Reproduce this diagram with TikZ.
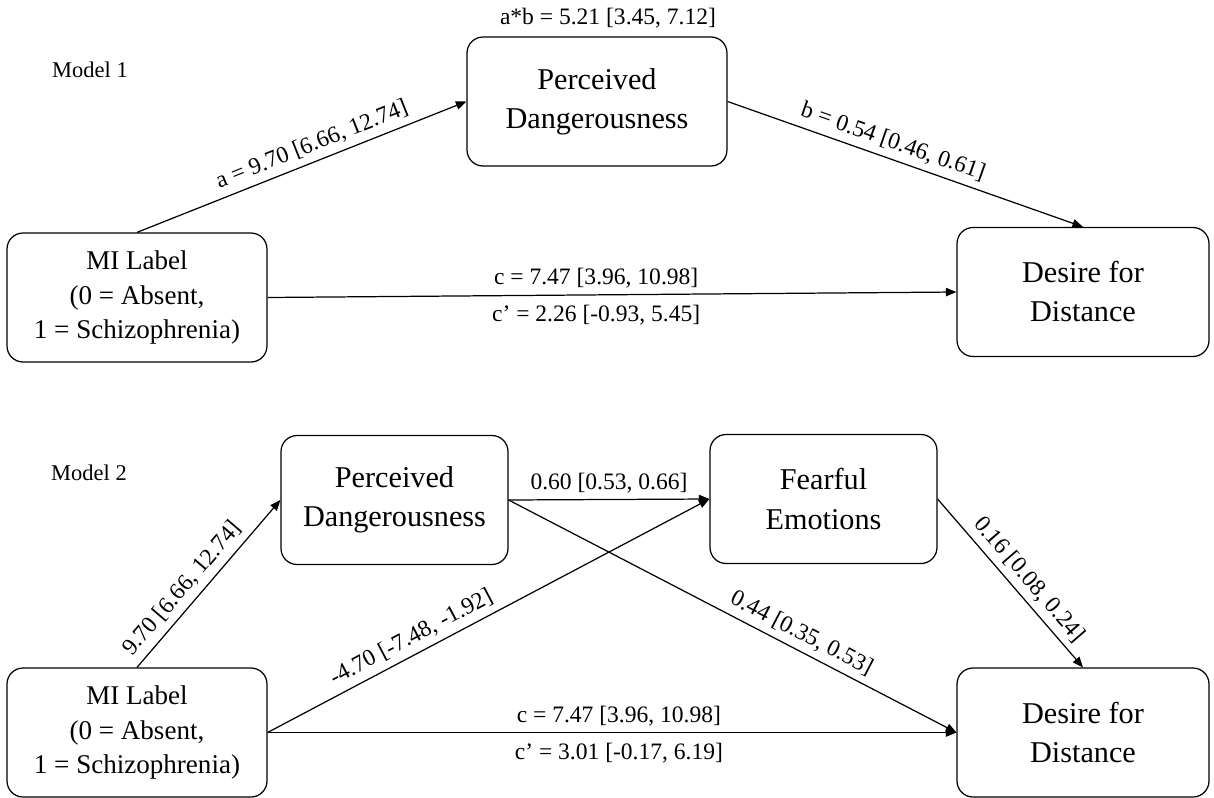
\documentclass[tikz,border=0pt]{standalone}
\usepackage{fontspec}
\setmainfont{Liberation Serif}
\usepackage{tikz}
\usetikzlibrary{arrows.meta}

\begin{document}
\begin{tikzpicture}[x=0.02cm,y=-0.02cm,
    box/.style={draw,line width=0.7pt,rounded corners=0.32cm,align=center,inner sep=0pt,
        minimum height=2.58cm,font=\fontsize{17.2}{22.2}\selectfont},
    mibox/.style={box,minimum width=5.2cm,font=\fontsize{15.4}{19.9}\selectfont},
    arr/.style={line width=0.7pt,-{Triangle[length=6pt,width=4.8pt]}},
    lbl/.style={font=\fontsize{13.4}{16}\selectfont,inner sep=3.5pt},
    lblb/.style={lbl,inner sep=5.5pt}]

    \useasboundingbox (0,0) rectangle (1214,798);

    % Model 1
    \node [font=\fontsize{12.8}{15}\selectfont] (titlea) at (90,70) {Model 1};
    \node [box,minimum width=5.2cm] (PDa) at (597,101.5) {Perceived\\Dangerousness};
    \node [mibox] (MIa) at (137,297.5) {MI Label\\(0 = Absent,\\1 = Schizophrenia)};
    \node [box,minimum width=5.04cm] (DDa) at (1083,292) {Desire for\\Distance};
    \node [lbl] (ab) at (608,18) {a*b = 5.21 [3.45, 7.12]};

    \draw [arr] (MIa.north) -- node [lbl,sloped,above,pos=0.55] {a = 9.70 [6.66, 12.74]} (PDa.west);
    \draw [arr] (PDa.east) -- node [lbl,sloped,above,pos=0.45] {b = 0.54 [0.46, 0.61]} (DDa.north);
    \draw [arr] (MIa.east) -- node [lbl,above,pos=0.477] {c = 7.47 [3.96, 10.98]}
        node [lblb,below,pos=0.477] {c’ = 2.26 [-0.93, 5.45]} (DDa.west);

    % Model 2
    \node [font=\fontsize{12.8}{15}\selectfont] (titleb) at (89,473) {Model 2};
    \node [box,minimum width=4.54cm] (PDb) at (394.5,500) {Perceived\\Dangerousness};
    \node [box,minimum width=4.54cm] (FE) at (823.5,499) {Fearful\\Emotions};
    \node [mibox] (MIb) at (137,732.5) {MI Label\\(0 = Absent,\\1 = Schizophrenia)};
    \node [box,minimum width=5.04cm] (DDb) at (1083,732.5) {Desire for\\Distance};

    \draw [arr] (MIb.north) -- node [lbl,sloped,above,pos=0.405] {9.70 [6.66, 12.74]} (PDb.west);
    \draw [arr] (PDb.east) -- node [lbl,above] {0.60 [0.53, 0.66]} (FE.west);
    \draw [arr] (MIb.east) -- node [lbl,sloped,above,pos=0.343] {-4.70 [-7.48, -1.92]} (FE.west);
    \draw [arr] (PDb.east) -- node [lbl,sloped,above,pos=0.637] {0.44 [0.35, 0.53]} (DDb.west);
    \draw [arr] (FE.east) -- node [lbl,sloped,above,pos=0.543] {0.16 [0.08, 0.24]} (DDb.north);
    \draw [arr] (MIb.east) -- node [lbl,above,pos=0.51] {c = 7.47 [3.96, 10.98]}
        node [lblb,below,pos=0.51] {c’ = 3.01 [-0.17, 6.19]} (DDb.west);

\end{tikzpicture}
\end{document}
